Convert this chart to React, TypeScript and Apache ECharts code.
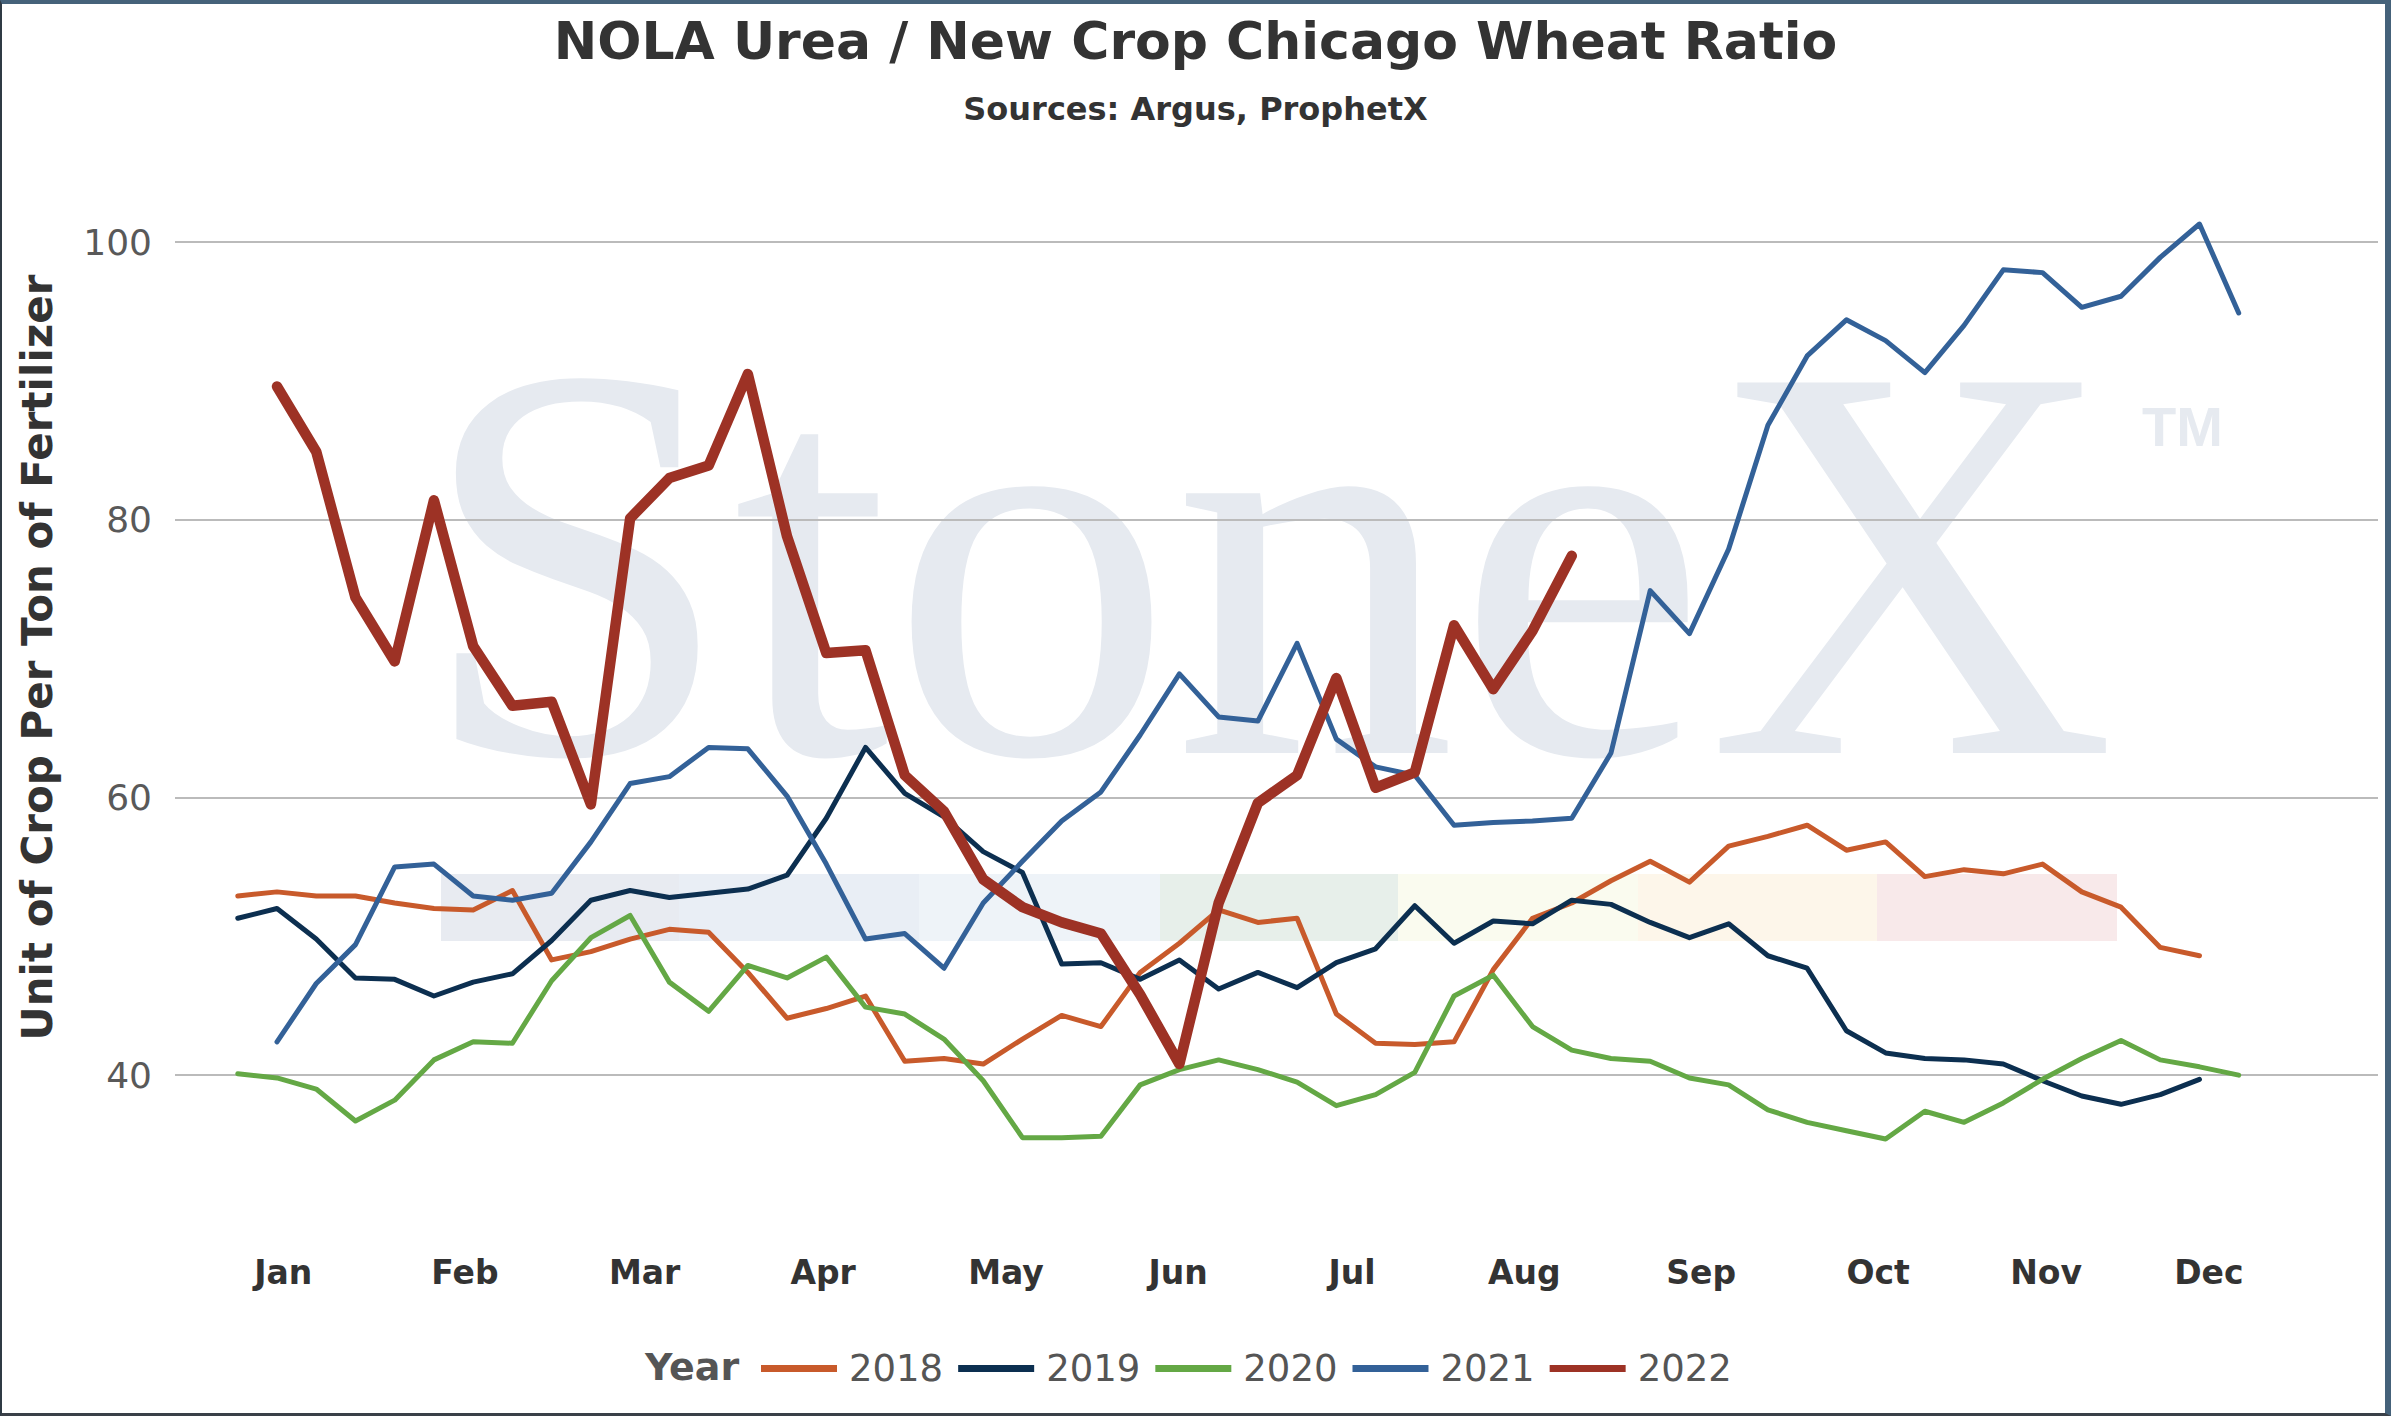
import React, { useEffect, useRef } from 'react';
import * as echarts from 'echarts';

// weekly ratio values, index 0 = first week of the year
const months = ['Jan', 'Feb', 'Mar', 'Apr', 'May', 'Jun', 'Jul', 'Aug', 'Sep', 'Oct', 'Nov', 'Dec'];
// week (on the same scale as the data) where each month label sits
const monthWeek = [1.16, 5.79, 10.37, 14.92, 19.58, 23.97, 28.4, 32.79, 37.3, 41.81, 46.09, 50.24];
const yTicks = [40, 60, 80, 100];

const y2018 = [52.9, 53.2, 52.9, 52.9, 52.4, 52.0, 51.9, 53.3, 48.3, 48.9, 49.8, 50.5, 50.3, 47.4, 44.1, 44.8, 45.7, 41.0, 41.2, 40.8, 42.6, 44.3, 43.5, 47.4, 49.5, 51.9, 51.0, 51.3, 44.4, 42.3, 42.2, 42.4, 47.6, 51.3, 52.4, 54.0, 55.4, 53.9, 56.5, 57.2, 58.0, 56.2, 56.8, 54.3, 54.8, 54.5, 55.2, 53.2, 52.1, 49.2, 48.6];
const y2019 = [51.3, 52.0, 49.8, 47.0, 46.9, 45.7, 46.7, 47.3, 49.7, 52.6, 53.3, 52.8, 53.1, 53.4, 54.4, 58.5, 63.6, 60.3, 58.6, 56.1, 54.6, 48.0, 48.1, 46.9, 48.3, 46.2, 47.4, 46.3, 48.1, 49.1, 52.2, 49.5, 51.1, 50.9, 52.6, 52.3, 51.0, 49.9, 50.9, 48.6, 47.7, 43.2, 41.6, 41.2, 41.1, 40.8, 39.6, 38.5, 37.9, 38.6, 39.7];
const y2020 = [40.1, 39.8, 39.0, 36.7, 38.2, 41.1, 42.4, 42.3, 46.8, 49.9, 51.5, 46.7, 44.6, 47.9, 47.0, 48.5, 44.9, 44.4, 42.6, 39.6, 35.5, 35.5, 35.6, 39.3, 40.4, 41.1, 40.4, 39.5, 37.8, 38.6, 40.2, 45.7, 47.2, 43.5, 41.8, 41.2, 41.0, 39.8, 39.3, 37.5, 36.6, 36.0, 35.4, 37.4, 36.6, 38.0, 39.7, 41.2, 42.5, 41.1, 40.6, 40.0];
// 2021 and 2022 start one week later
const y2021 = [42.4, 46.6, 49.4, 55.0, 55.2, 52.9, 52.6, 53.1, 56.8, 61.0, 61.5, 63.6, 63.5, 60.1, 55.2, 49.8, 50.2, 47.7, 52.4, 55.4, 58.3, 60.4, 64.5, 68.9, 65.8, 65.5, 71.1, 64.2, 62.2, 61.6, 58.0, 58.2, 58.3, 58.5, 63.2, 74.9, 71.8, 77.9, 86.8, 91.8, 94.4, 92.9, 90.6, 94.0, 98.0, 97.8, 95.3, 96.1, 98.9, 101.3, 94.9];
const y2022 = [89.6, 84.9, 74.4, 69.8, 81.4, 70.9, 66.6, 66.9, 59.5, 80.1, 83.0, 83.9, 90.5, 78.8, 70.4, 70.6, 61.6, 59.0, 54.1, 52.1, 51.0, 50.2, 45.8, 40.8, 52.4, 59.6, 61.6, 68.6, 60.7, 61.8, 72.4, 67.8, 72.0, 77.4];

const years = [
  { name: '2018', values: y2018, start: 0, color: '#C85A2B', width: 5 },
  { name: '2019', values: y2019, start: 0, color: '#0C2F50', width: 5 },
  { name: '2020', values: y2020, start: 0, color: '#64A845', width: 5 },
  { name: '2021', values: y2021, start: 1, color: '#336198', width: 5 },
  { name: '2022', values: y2022, start: 1, color: '#9D3225', width: 10.5 },
];

const bands = [
  { x: 441, w: 238, color: '#E8EBF1' },
  { x: 679, w: 240, color: '#E9EEF5' },
  { x: 919, w: 241, color: '#EEF3F8' },
  { x: 1160, w: 238, color: '#E7EFEA' },
  { x: 1398, w: 240, color: '#FAFBEF' },
  { x: 1638, w: 239, color: '#FDF6EA' },
  { x: 1877, w: 240, color: '#F8E9EA' },
];

const FONT = '"DejaVu Sans", Verdana, sans-serif';

const App: React.FC = () => {
  const chartRef = useRef<HTMLDivElement>(null);

  useEffect(() => {
    document.body.style.margin = '0';
    if (!chartRef.current) return;
    const chart = echarts.init(chartRef.current, undefined, { renderer: 'svg' });

    const option: echarts.EChartsOption = {
      animation: false,
      backgroundColor: '#ffffff',
      title: [
        {
          text: 'NOLA Urea / New Crop Chicago Wheat Ratio',
          left: 'center',
          top: 10,
          textStyle: { fontFamily: FONT, fontSize: 52, fontWeight: 'bold', color: '#333333' },
        },
        {
          text: 'Sources: Argus, ProphetX',
          left: 'center',
          top: 88,
          textStyle: { fontFamily: FONT, fontSize: 32, fontWeight: 'bold', color: '#333333' },
        },
        {
          text: 'Year',
          left: 640,
          top: 1343,
          textStyle: { fontFamily: FONT, fontSize: 38, fontWeight: 'bold', color: '#555555' },
        },
      ],
      legend: {
        left: 756,
        top: 1345,
        icon: 'rect',
        itemWidth: 76,
        itemHeight: 7,
        itemGap: 15,
        data: years.map((y) => y.name),
        textStyle: { fontFamily: FONT, fontSize: 37, color: '#555555', padding: [0, 0, 0, 7] },
      },
      grid: { left: 175, right: 13, top: 131, bottom: 202 },
      xAxis: {
        type: 'value',
        min: -1.6,
        max: 54.55,
        axisLine: { show: false },
        axisTick: { show: false },
        splitLine: { show: false },
        axisLabel: {
          customValues: monthWeek,
          formatter: (v: number) => {
            const i = monthWeek.findIndex((w) => Math.abs(w - v) < 0.01);
            return i >= 0 ? months[i] : '';
          },
          fontFamily: FONT,
          fontSize: 33,
          fontWeight: 'bold',
          color: '#333333',
          margin: 42,
        },
      } as any,
      yAxis: {
        type: 'value',
        min: 30,
        max: 108,
        name: 'Unit of Crop Per Ton of Fertilizer',
        nameLocation: 'middle',
        nameRotate: 90,
        nameGap: 117,
        nameTextStyle: {
          fontFamily: FONT,
          fontSize: 42,
          fontWeight: 'bold',
          color: '#333333',
          padding: [0, 0, 0, 30],
        },
        axisLine: { show: false },
        axisTick: { show: false, customValues: yTicks },
        axisLabel: {
          customValues: yTicks,
          fontFamily: FONT,
          fontSize: 36,
          color: '#595959',
          margin: 23,
        },
        splitLine: { show: true, lineStyle: { color: '#BBBBBB', width: 2 } },
      } as any,
      graphic: [
        ...bands.map((b) => ({
          type: 'rect',
          z: -10,
          silent: true,
          shape: { x: b.x, y: 874, width: b.w, height: 67 },
          style: { fill: b.color },
        })),
        {
          type: 'text',
          z: -10,
          silent: true,
          x: 418,
          y: 562,
          style: {
            text: 'StoneX',
            fontFamily: '"Liberation Serif", "Times New Roman", serif',
            fontSize: 566,
            fill: '#E6EAF0',
            textVerticalAlign: 'middle',
          },
        },
        {
          type: 'text',
          z: -10,
          silent: true,
          x: 2142,
          y: 426,
          style: {
            text: 'TM',
            fontFamily: '"Liberation Sans", Arial, sans-serif',
            fontSize: 56,
            fontWeight: 'bold',
            fill: '#E6EAF0',
            textVerticalAlign: 'middle',
          },
        },
      ] as any,
      series: years.map((y) => ({
        name: y.name,
        type: 'line',
        showSymbol: false,
        symbol: 'none',
        data: y.values.map((v, i) => [i + y.start, v]),
        color: y.color,
        lineStyle: { color: y.color, width: y.width, cap: 'round', join: 'round' },
        itemStyle: { color: y.color },
      })),
    };

    chart.setOption(option);

    return () => {
      chart.dispose();
    };
  }, []);

  return (
    <div style={{ position: 'relative', width: 2391, height: 1416, overflow: 'hidden' }}>
      <div ref={chartRef} style={{ position: 'absolute', left: 0, top: 0, width: 2391, height: 1416 }} />
      <div
        style={{
          position: 'absolute',
          inset: 0,
          boxSizing: 'border-box',
          borderTop: '4px solid #45627A',
          borderRight: '6px solid #45627A',
          borderBottom: '3px solid #3A4048',
          borderLeft: '2px solid #2F3A44',
          pointerEvents: 'none',
        }}
      />
    </div>
  );
};

export default App;
